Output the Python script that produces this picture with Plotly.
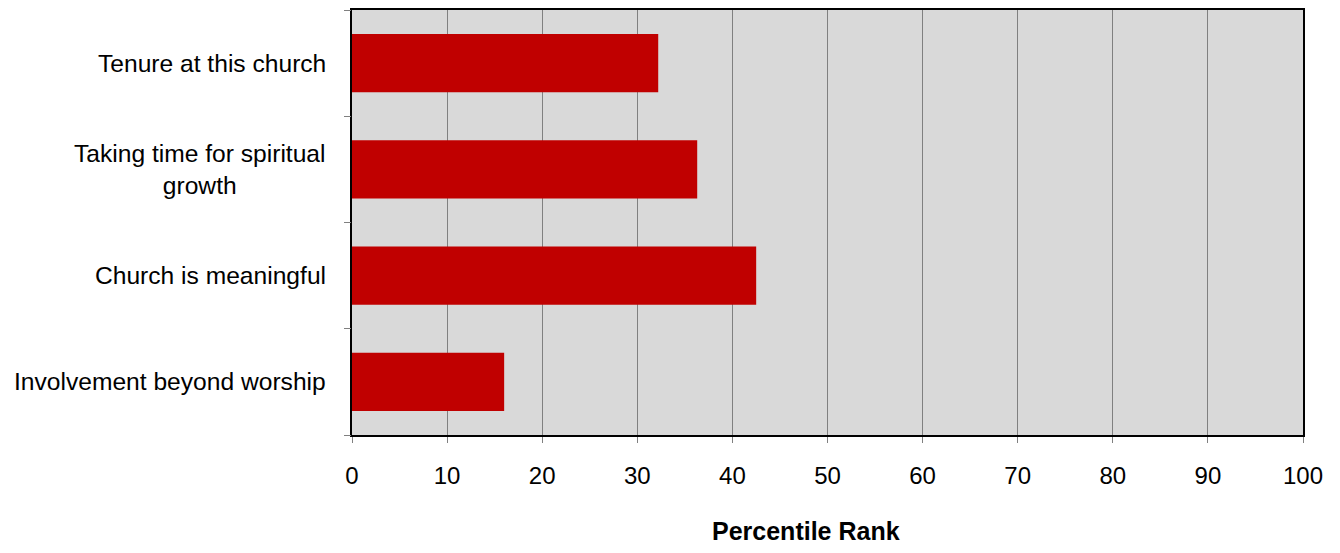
import plotly.graph_objects as go

BAR_RED = "#C00000"
PLOT_BG = "#D9D9D9"
GRID = "#808080"

categories = [
    "Tenure at this church",
    "Taking time for spiritual<br>growth",
    "Church is meaningful",
    "Involvement beyond worship",
]
percentile = [32.2, 36.3, 42.5, 16.0]
x_ticks = [0, 10, 20, 30, 40, 50, 60, 70, 80, 90, 100]

fig = go.Figure()

fig.add_trace(go.Bar(
    x=percentile,
    y=categories,
    orientation="h",
    marker=dict(color=BAR_RED, line=dict(width=0)),
    width=0.55,
    showlegend=False,
    hoverinfo="x+y",
))

# invisible helper so the tick marks can sit between the categories
fig.add_trace(go.Scatter(
    x=[None], y=[None], yaxis="y2", mode="markers",
    showlegend=False, hoverinfo="skip",
))

# category labels as annotations so the two-line one is centred
for cat in categories:
    fig.add_annotation(
        x=0, xref="paper", y=cat, yref="y",
        text=cat, showarrow=False,
        xanchor="right", align="center", xshift=-24,
        font=dict(size=24.6),
    )

fig.add_annotation(
    x=0.477, xref="paper", y=-0.225, yref="paper",
    text="<b>Percentile Rank</b>", showarrow=False,
    xanchor="center", yanchor="middle",
    font=dict(size=25),
)

# page body has an 8px default margin, so margins are shifted to compensate
fig.update_layout(
    width=1340,
    height=553,
    paper_bgcolor="white",
    plot_bgcolor=PLOT_BG,
    font=dict(family="Liberation Sans, Arial, sans-serif", color="black", size=24),
    margin=dict(l=344, r=45, t=0, b=126),
    bargap=0.45,
    xaxis=dict(
        range=[0, 100],
        tickvals=x_ticks,
        showgrid=True,
        gridcolor=GRID,
        gridwidth=1,
        zeroline=False,
        showline=True,
        linecolor="black",
        linewidth=2,
        mirror=True,
        ticks="outside",
        ticklen=6,
        tickcolor=GRID,
        ticklabelstandoff=12,
        tickfont=dict(size=24),
        fixedrange=True,
    ),
    yaxis=dict(
        categoryorder="array",
        categoryarray=categories[::-1],
        range=[-0.5, 3.5],
        showgrid=False,
        zeroline=False,
        showline=True,
        linecolor="black",
        linewidth=2,
        mirror=True,
        ticks="",
        showticklabels=False,
        fixedrange=True,
    ),
    yaxis2=dict(
        overlaying="y",
        side="left",
        range=[0, 4],
        tickvals=[0, 1, 2, 3, 4],
        showticklabels=False,
        showgrid=False,
        zeroline=False,
        showline=False,
        ticks="outside",
        ticklen=7,
        tickcolor=GRID,
        fixedrange=True,
    ),
)

fig.write_html("out.html")
